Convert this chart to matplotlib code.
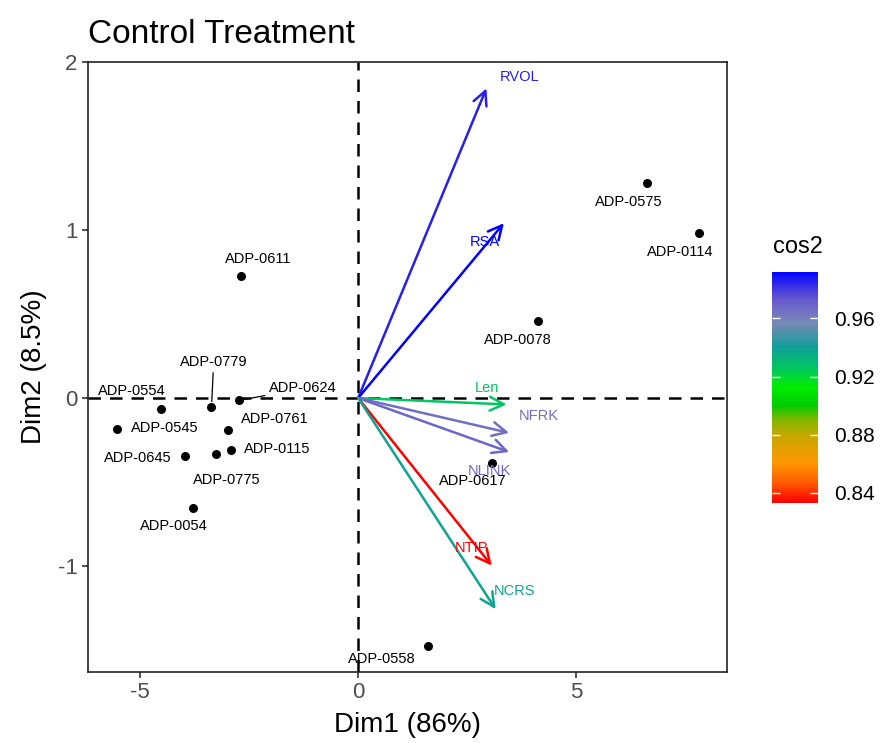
import numpy as np
import matplotlib
matplotlib.use("Agg")
import matplotlib.pyplot as plt
from matplotlib.colors import LinearSegmentedColormap, Normalize

plt.rcParams['font.family'] = ['Liberation Sans', 'DejaVu Sans']
plt.rcParams['axes.unicode_minus'] = False

# individuals (PCA scores)
ind_names = ['ADP-0611', 'ADP-0779', 'ADP-0624', 'ADP-0554', 'ADP-0545',
             'ADP-0761', 'ADP-0115', 'ADP-0775', 'ADP-0645', 'ADP-0054',
             'ADP-0575', 'ADP-0114', 'ADP-0078', 'ADP-0617', 'ADP-0558']
ind_x = [-2.69, -3.36, -2.72, -4.52, -5.53, -2.99, -2.92, -3.25, -3.96, -3.78,
         6.63, 7.80, 4.13, 3.06, 1.60]
ind_y = [0.724, -0.054, -0.014, -0.067, -0.187, -0.191, -0.310, -0.330, -0.346, -0.655,
         1.279, 0.985, 0.460, -0.386, -1.476]

# variables (arrows)
var_names = ['RVOL', 'RSA', 'Len', 'NFRK', 'NLINK', 'NTIP', 'NCRS']
var_x = [2.94, 3.34, 3.40, 3.46, 3.46, 3.06, 3.15]
var_y = [1.843, 1.041, -0.038, -0.207, -0.321, -0.997, -1.256]
var_cos2 = [0.985, 0.992, 0.926, 0.965, 0.968, 0.833, 0.938]

cb_ticks = [0.84, 0.88, 0.92, 0.96]

# where the (repelled) labels ended up
ind_lab_x = [-2.28, -3.31, -1.27, -5.18, -4.44, -1.91, -1.85, -3.02, -5.06, -4.23,
             6.20, 7.37, 3.67, 2.62, 0.54]
ind_lab_y = [0.828, 0.217, 0.058, 0.042, -0.177, -0.127, -0.306, -0.485, -0.356, -0.764,
             1.166, 0.872, 0.344, -0.496, -1.554]
leader = ['ADP-0779', 'ADP-0624']
var_lab_x = [3.71, 2.91, 2.96, 4.14, 3.00, 2.60, 3.59]
var_lab_y = [1.91, 0.927, 0.061, -0.107, -0.432, -0.894, -1.148]

cmap = LinearSegmentedColormap.from_list('cos2', [
    (0.0, '#FF0000'), (0.08, '#FF5500'), (0.17, '#FF9800'), (0.29, '#C8A800'),
    (0.36, '#80B800'), (0.42, '#00CC00'), (0.50, '#00EE00'), (0.58, '#00C860'),
    (0.67, '#10A098'), (0.78, '#7A88B8'), (0.88, '#6858D0'), (1.0, '#0000FF')])
norm = Normalize(vmin=min(var_cos2), vmax=max(var_cos2))

fig = plt.figure(figsize=(8.8, 7.43), dpi=100)
ax = fig.add_axes([0.1, 0.0956, 0.726, 0.821])

ax.axhline(0, color='black', lw=1.8, ls=(0, (5, 3.6)), zorder=1)
ax.axvline(0, color='black', lw=1.8, ls=(0, (5, 3.6)), zorder=1)

ax.scatter(ind_x, ind_y, s=42, color='black', zorder=3, linewidths=0)
for i, name in enumerate(ind_names):
    if name in leader:
        ax.annotate(name, xy=(ind_x[i], ind_y[i]), xytext=(ind_lab_x[i], ind_lab_y[i]),
                    ha='center', va='center', fontsize=10.5, zorder=4,
                    arrowprops=dict(arrowstyle='-', lw=0.9, color='black',
                                    shrinkA=1, shrinkB=4))
    else:
        ax.text(ind_lab_x[i], ind_lab_y[i], name, ha='center', va='center',
                fontsize=10.5, zorder=4)

for i, name in enumerate(var_names):
    c = cmap(norm(var_cos2[i]))
    ax.annotate('', xy=(var_x[i], var_y[i]), xytext=(0, 0), zorder=5,
                arrowprops=dict(arrowstyle='->,head_length=0.5,head_width=0.25',
                                lw=1.8, color=c, mutation_scale=20,
                                shrinkA=0, shrinkB=0))
    ax.text(var_lab_x[i], var_lab_y[i], name, color=c, ha='center', va='center',
            fontsize=10.5, zorder=6)

ax.set_xlim(-6.19, 8.45)
ax.set_ylim(-1.63, 2.0)
ax.set_xticks([-5, 0, 5])
ax.set_yticks([-1, 0, 1, 2])
ax.tick_params(labelsize=16, labelcolor='#4D4D4D', color='#333333', length=4, width=1.2)
for sp in ax.spines.values():
    sp.set_linewidth(1.2)
    sp.set_color('#222222')

ax.set_xlabel('Dim1 (86%)', fontsize=20, labelpad=6)
ax.set_ylabel('Dim2 (8.5%)', fontsize=20, labelpad=8)
ax.set_title('Control Treatment', loc='left', fontsize=24, pad=14)

# colour bar
cax = fig.add_axes([0.877, 0.323, 0.052, 0.311])
grad = np.linspace(norm.vmin, norm.vmax, 256).reshape(-1, 1)
cax.imshow(grad, aspect='auto', cmap=cmap, norm=norm, origin='lower',
           extent=[0, 1, norm.vmin, norm.vmax])
cax.set_xticks([])
cax.set_yticks(cb_ticks)
cax.set_yticklabels([f'{t:.2f}' for t in cb_ticks])
cax.yaxis.tick_right()
cax.tick_params(axis='y', left=True, right=True, labelleft=False, labelright=True,
                direction='in', color='white', length=6, width=1, labelsize=15, pad=12)
for sp in cax.spines.values():
    sp.set_visible(False)
fig.text(773 / 880, 1 - 247 / 743, 'cos2', ha='left', va='center', fontsize=17)

fig.savefig('out.png', dpi=100, facecolor='white')
